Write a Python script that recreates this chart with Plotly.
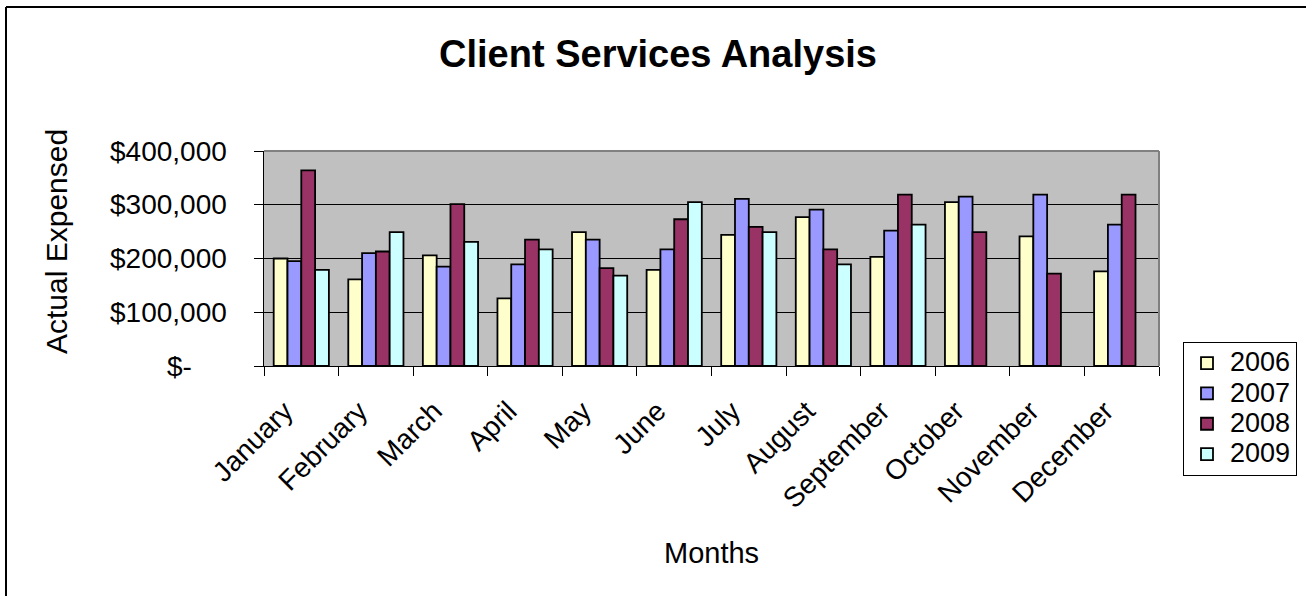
import plotly.graph_objects as go

months = ["January", "February", "March", "April", "May", "June",
          "July", "August", "September", "October", "November", "December"]
years = ["2006", "2007", "2008", "2009"]

v2006 = [200000, 161000, 206000, 126000, 249000, 179000, 244000, 277000, 203000, 305000, 241000, 176000]
v2007 = [195000, 210000, 185000, 189000, 235000, 217000, 311000, 291000, 252000, 315000, 319000, 263000]
v2008 = [364000, 213000, 301000, 235000, 182000, 273000, 259000, 217000, 319000, 249000, 172000, 319000]
v2009 = [179000, 249000, 231000, 217000, 168000, 305000, 249000, 189000, 263000, None, None, None]

series = [v2006, v2007, v2008, v2009]
colors = ["#FFFFCC", "#9999FF", "#993366", "#CCFFFF"]

ytick_vals = [0, 100000, 200000, 300000, 400000]
ytick_text = ["$-", "$100,000", "$200,000", "$300,000", "$400,000"]

W, H = 1306, 596
L, R, T, B = 264, 1159, 151, 366  # plot area pixel box

def px(x):
    return (x - L) / (R - L)

def py(y):
    return (B - y) / (B - T)

FONT = "Liberation Sans, Arial, sans-serif"
NB = "\u00a0"

fig = go.Figure()
for name, vals, col in zip(years, series, colors):
    fig.add_trace(go.Bar(
        x=months, y=vals,
        name="<span style='font-size:27px'>" + name + "</span>",
        hovertemplate="%{x}<br>" + name + ": %{y:$,.0f}<extra></extra>",
        marker=dict(color=col, line=dict(color="black", width=1.8)),
    ))

# y tick labels (Excel accounting style: "$-" sits left of the others)
annotations = []
for v, t in zip(ytick_vals, ytick_text):
    annotations.append(dict(
        text=t, xref="paper", yref="y", x=px(229 if v else 194), y=v,
        xanchor="right", yanchor="middle", showarrow=False,
        font=dict(size=28, family=FONT, color="black")))

annotations += [
    dict(text="Months", xref="paper", yref="paper", x=px(711), y=py(553),
         showarrow=False, xanchor="center", yanchor="middle",
         font=dict(size=29, family=FONT, color="black")),
    dict(text="Actual Expensed", xref="paper", yref="paper", x=px(56), y=py(242),
         showarrow=False, xanchor="center", yanchor="middle", textangle=-90,
         font=dict(size=30, family=FONT, color="black")),
]

fig.update_layout(
    width=W, height=H,
    margin=dict(l=L, r=W - R, t=T, b=H - B, autoexpand=False),
    paper_bgcolor="white",
    plot_bgcolor="#C0C0C0",
    barmode="group",
    bargap=0.26,
    bargroupgap=0,
    font=dict(family=FONT, color="black", size=28),
    title=dict(text="<b>Client Services Analysis</b>", x=658 / W, xanchor="center",
               y=1 - 54 / H, yanchor="middle", yref="container",
               font=dict(size=38, family=FONT, color="black")),
    legend=dict(x=px(1183), y=py(342), xanchor="left", yanchor="top",
                bgcolor="white", bordercolor="black", borderwidth=1,
                font=dict(size=21, family=FONT, color="black"),
                tracegroupgap=0, itemwidth=36),
    xaxis=dict(type="category", tickson="boundaries", ticks="outside", ticklen=9,
               tickcolor="black", tickwidth=1, tickangle=-45,
               tickvals=months, ticktext=[m + NB * 3 for m in months],
               showline=True, linecolor="black", linewidth=1,
               showgrid=False, tickfont=dict(size=28, family=FONT)),
    yaxis=dict(range=[0, 400000], tickvals=ytick_vals, showticklabels=False,
               ticks="outside", ticklen=9, tickcolor="black", tickwidth=1,
               showline=True, linecolor="black", linewidth=1,
               showgrid=True, gridcolor="black", gridwidth=1,
               zeroline=False),
    annotations=annotations,
    shapes=[
        # outer chart border (left and top visible)
        dict(type="line", xref="paper", yref="paper", x0=px(6), x1=px(6),
             y0=py(7), y1=py(H + 5), line=dict(color="black", width=2)),
        dict(type="line", xref="paper", yref="paper", x0=px(6), x1=px(W + 5),
             y0=py(7), y1=py(7), line=dict(color="black", width=2)),
        # plot-area border (top and right, gray)
        dict(type="line", xref="paper", yref="paper", x0=0, x1=1, y0=1, y1=1,
             line=dict(color="#808080", width=2), layer="above"),
        dict(type="line", xref="paper", yref="paper", x0=1, x1=1, y0=0, y1=1,
             line=dict(color="#808080", width=2), layer="above"),
    ],
)

fig.write_html("out.html", config={"displayModeBar": False},
               post_script="document.body.style.margin='0';document.body.style.overflow='hidden';")
